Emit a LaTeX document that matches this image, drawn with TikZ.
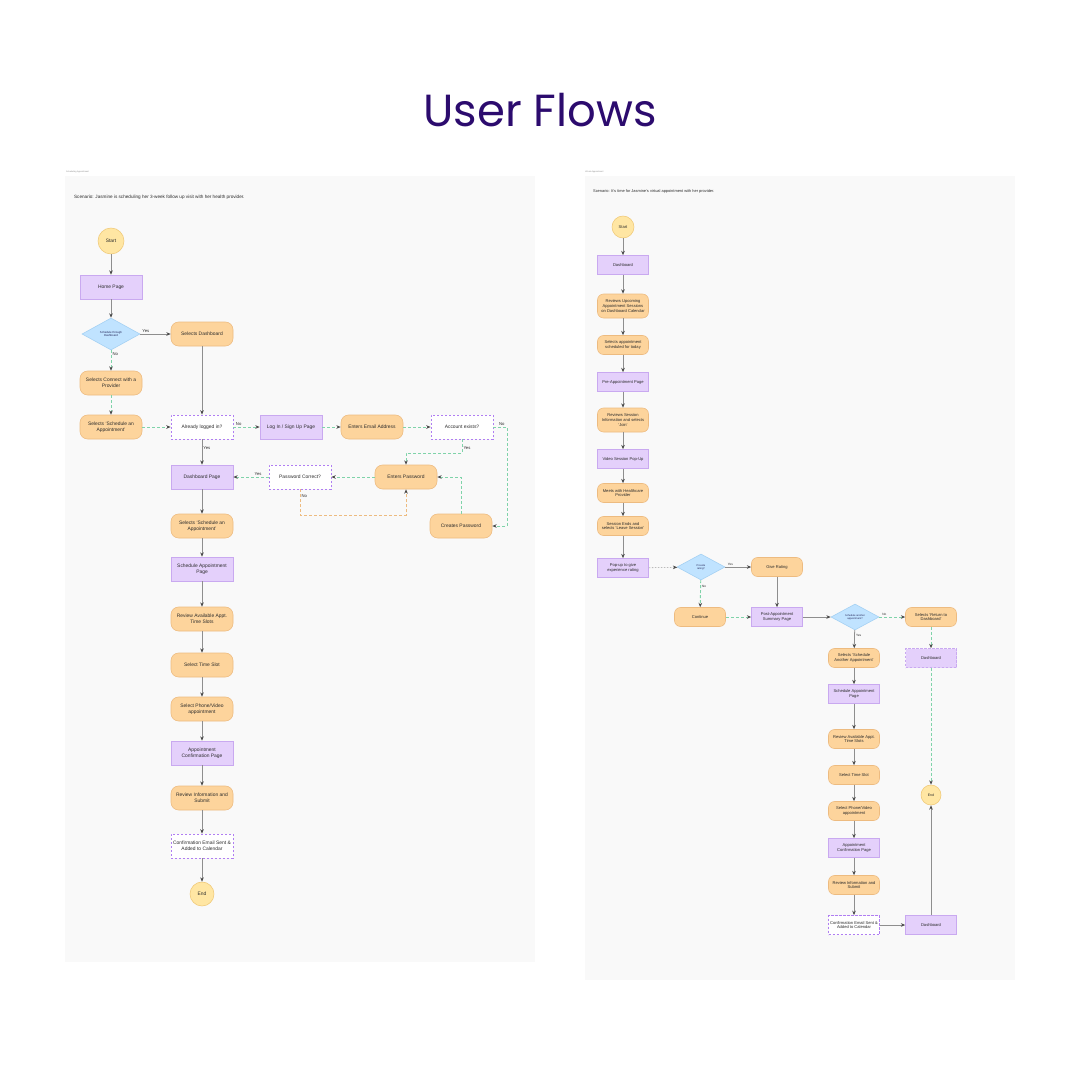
\documentclass[tikz,border=0pt]{standalone}
\usepackage{fontspec}
\setmainfont{Liberation Sans}
\newfontfamily\titlefont{Poppins}
\usetikzlibrary{arrows.meta,shapes.geometric}
\definecolor{flowpurple}{HTML}{E4D0FB}
\definecolor{flowpurpleline}{HTML}{C9A9F0}
\definecolor{flowcheckline}{HTML}{B07EF2}
\definecolor{floworange}{HTML}{FDD49C}
\definecolor{floworangeline}{HTML}{EDBB80}
\definecolor{flowyellow}{HTML}{FFE6A3}
\definecolor{flowyellowline}{HTML}{F0C977}
\definecolor{flowblue}{HTML}{C0E3FF}
\definecolor{flowblueline}{HTML}{A3D0F3}
\definecolor{flowgreen}{HTML}{7FD3A9}
\definecolor{flowgray}{HTML}{8E8E8E}
\definecolor{flowink}{HTML}{2B2B2B}
\definecolor{titleink}{HTML}{2C0B6E}
\definecolor{panelbg}{HTML}{F9F9F9}
\tikzset{
  >={Stealth[length=2.2mm,width=1.8mm,color=flowink!85]},
  pagebox/.style={draw=flowpurpleline,fill=flowpurple,line width=0.8pt,
                  minimum width=3.1cm,minimum height=1.2cm,inner sep=2pt,
                  align=center,font=\fontsize{7}{8.6}\selectfont,text=flowink},
  actbox/.style={pagebox,draw=floworangeline,fill=floworange,rounded corners=0.38cm},
  checkbox/.style={pagebox,fill=white,draw=flowcheckline,line width=1.1pt,
                   dash pattern=on 1.2mm off 0.8mm},
  startend/.style={circle,draw=flowyellowline,fill=flowyellow,line width=0.8pt,
                   minimum size=1.3cm,inner sep=0pt,font=\fontsize{7}{8.6}\selectfont,text=flowink},
  choice/.style={diamond,draw=flowblueline,fill=flowblue,line width=0.8pt,
                 minimum width=2.9cm,minimum height=1.6cm,inner sep=0pt,align=center,
                 font=\fontsize{4}{5}\selectfont,text=flowink!80!blue},
  rpage/.style={pagebox,minimum width=2.55cm,minimum height=0.95cm,font=\fontsize{5.8}{7}\selectfont},
  ract/.style={actbox,minimum width=2.55cm,minimum height=0.95cm,rounded corners=0.3cm,
               font=\fontsize{5.8}{7}\selectfont},
  rtall/.style={ract,minimum height=1.2cm},
  rcheck/.style={checkbox,minimum width=2.55cm,minimum height=0.95cm,font=\fontsize{5.8}{7}\selectfont},
  rchoice/.style={choice,minimum width=2.4cm,minimum height=1.3cm,font=\fontsize{3.6}{4.4}\selectfont},
  plainarrow/.style={->,draw=flowgray,line width=1.1pt},
  softarrow/.style={->,draw=flowgray!60,line width=1.1pt,dash pattern=on 0.8mm off 0.7mm},
  altarrow/.style={->,draw=flowgreen,line width=1.3pt,dash pattern=on 1.5mm off 1mm},
  retryarrow/.style={->,draw=floworangeline,line width=1.3pt,dash pattern=on 1.5mm off 1mm},
  branchlabel/.style={font=\fontsize{6}{7}\selectfont,text=flowink,inner sep=1.5pt},
  rlabel/.style={branchlabel,font=\fontsize{4.5}{5.5}\selectfont},
}
\begin{document}
\begin{tikzpicture}[x=0.05cm,y=-0.05cm]
  \useasboundingbox[fill=white] (0,0) rectangle (1080,1080);
  \node[font=\titlefont\fontsize{64}{74}\selectfont,text=titleink] (title) at (540,110) {User Flows};

  % panels
  \fill[panelbg] (65,176) rectangle (535,962);
  \fill[panelbg] (585,176) rectangle (1015,980);
  \node[anchor=west,inner sep=0pt,font=\fontsize{3}{3.5}\selectfont,text=flowgray] (lhead) at (66,172) {Scheduling Appointment};
  \node[anchor=west,inner sep=0pt,font=\fontsize{3}{3.5}\selectfont,text=flowgray] (rhead) at (585,172) {Virtual Appointment};
  \node[anchor=west,inner sep=0pt,font=\fontsize{6.6}{7.6}\selectfont,text=flowink] (lscene) at (74,197)
    {Scenario: Jasmine is scheduling her 3-week follow up visit with her health provider.};
  \node[anchor=west,inner sep=0pt,font=\fontsize{5.6}{6.6}\selectfont,text=flowink] (rscene) at (593,191)
    {Scenario: It's time for Jasmine's virtual appointment with her provider.};

  % left flow
  \node[startend] (lstart) at (111,241) {Start};
  \node[pagebox] (lhome) at (111,287) {Home Page};
  \node[choice] (lq1) at (111,334) {Schedule through\\Dashboard};
  \node[actbox] (lseldash) at (202,334) {Selects Dashboard};
  \node[actbox] (lconnect) at (111,383) {Selects Connect with a\\Provider};
  \node[actbox] (lsched) at (111,427) {Selects `Schedule an\\Appointment'};
  \node[checkbox] (llogged) at (202,427) {Already logged in?};
  \node[pagebox] (llogin) at (291,427) {Log In / Sign Up Page};
  \node[actbox] (lemail) at (372,427) {Enters Email Address};
  \node[checkbox] (lexists) at (462,427) {Account exists?};
  \node[pagebox] (ldashpage) at (202,477) {Dashboard Page};
  \node[checkbox] (lcorrect) at (300,477) {Password Correct?};
  \node[actbox] (lpass) at (406,477) {Enters Password};
  \node[actbox] (lcreate) at (461,526) {Creates Password};
  \foreach \sty/\y/\txt [count=\n] in {
      actbox/526/{Selects `Schedule an\\Appointment'},
      pagebox/569/{Schedule Appointment\\Page},
      actbox/619/{Review Available Appt.\\Time Slots},
      actbox/665/{Select Time Slot},
      actbox/709/{Select Phone/Video\\appointment},
      pagebox/753/{Appointment\\Confirmation Page},
      actbox/798/{Review Information and\\Submit},
      checkbox/846/{Confirmation Email Sent \&\\Added to Calendar}}{
    \node[\sty] (lc\n) at (202,\y) {\txt};
  }
  \node[startend,minimum size=1.2cm] (lend) at (202,894) {End};

  \draw[plainarrow] (lstart) -- (lhome);
  \draw[plainarrow] (lhome) -- (lq1);
  \draw[plainarrow] (lq1) -- node[branchlabel,above,pos=0.18]{Yes} (lseldash);
  \draw[altarrow] (lq1) -- node[branchlabel,right,pos=0.2]{No} (lconnect);
  \draw[altarrow] (lconnect) -- (lsched);
  \draw[altarrow] (lsched) -- (llogged);
  \draw[plainarrow] (lseldash) -- (llogged);
  \draw[altarrow] (llogged) -- node[branchlabel,above,pos=0.2]{No} (llogin);
  \draw[altarrow] (llogin) -- (lemail);
  \draw[altarrow] (lemail) -- (lexists);
  \draw[altarrow] (lexists.south) -- node[branchlabel,right,pos=0.6]{Yes} ++(0,14) -| (lpass.north);
  \draw[altarrow] (lexists.east) -- node[branchlabel,above,pos=0.6]{No} ++(14,0) |- (lcreate.east);
  \draw[altarrow] (lcreate.north) |- (lpass.east);
  \draw[altarrow] (lpass) -- (lcorrect);
  \draw[altarrow] (lcorrect) -- node[branchlabel,above,pos=0.3]{Yes} (ldashpage);
  \draw[retryarrow] (lcorrect.south) -- node[branchlabel,right,pos=0.25]{No} ++(0,26) -| (lpass.south);
  \draw[plainarrow] (llogged) -- node[branchlabel,right,pos=0.35]{Yes} (ldashpage);
  \draw[plainarrow] (ldashpage) -- (lc1);
  \foreach \a/\b in {1/2,2/3,3/4,4/5,5/6,6/7,7/8}{
    \draw[plainarrow] (lc\a) -- (lc\b);
  }
  \draw[plainarrow] (lc8) -- (lend);

  % right flow
  \node[startend,minimum size=1.1cm,font=\fontsize{5.8}{7}\selectfont] (rstart) at (623,227) {Start};
  \foreach \sty/\y/\txt [count=\n] in {
      rpage/265/{Dashboard},
      rtall/306/{Reviews Upcoming\\Appointment Sessions\\on Dashboard Calendar},
      ract/345/{Selects appointment\\scheduled for today},
      rpage/382/{Pre-Appointment Page},
      rtall/420/{Reviews Session\\Information and selects\\`Join'},
      rpage/459/{Video Session Pop-Up},
      ract/493/{Meets with Healthcare\\Provider},
      ract/526/{Session Ends and\\selects `Leave Session'},
      rpage/568/{Pop-up to give\\experience rating}}{
    \node[\sty] (rt\n) at (623,\y) {\txt};
  }
  \node[rchoice] (rq1) at (701,567) {Provide\\rating?};
  \node[ract] (rgive) at (777,567) {Give Rating};
  \node[ract] (rcont) at (700,617) {Continue};
  \node[rpage] (rpost) at (777,617) {Post-Appointment\\Summary Page};
  \node[rchoice] (rq2) at (855,617) {Schedule another\\appointment?};
  \node[ract] (rreturn) at (931,617) {Selects `Return to\\Dashboard'};
  \node[rpage,dash pattern=on 1.2mm off 0.8mm] (rdash1) at (931,658) {Dashboard};
  \node[startend,minimum size=1cm,font=\fontsize{5}{6}\selectfont] (rend) at (931,795) {End};
  \node[rpage] (rdash2) at (931,925) {Dashboard};
  \foreach \sty/\y/\txt [count=\n] in {
      ract/658/{Selects `Schedule\\Another Appointment'},
      rpage/694/{Schedule Appointment\\Page},
      ract/739/{Review Available Appt.\\Time Slots},
      ract/775/{Select Time Slot},
      ract/811/{Select Phone/Video\\appointment},
      rpage/848/{Appointment\\Confirmation Page},
      ract/885/{Review Information and\\Submit},
      rcheck/925/{Confirmation Email Sent \&\\Added to Calendar}}{
    \node[\sty] (rb\n) at (854,\y) {\txt};
  }

  \draw[plainarrow] (rstart) -- (rt1);
  \foreach \a/\b in {1/2,2/3,3/4,4/5,5/6,6/7,7/8,8/9}{
    \draw[plainarrow] (rt\a) -- (rt\b);
  }
  \draw[softarrow] (rt9) -- (rq1);
  \draw[plainarrow] (rq1) -- node[rlabel,above,pos=0.2]{Yes} (rgive);
  \draw[altarrow] (rq1) -- node[rlabel,right,pos=0.25]{No} (rcont);
  \draw[plainarrow] (rgive) -- (rpost);
  \draw[altarrow] (rcont) -- (rpost);
  \draw[plainarrow] (rpost) -- (rq2);
  \draw[altarrow] (rq2) -- node[rlabel,above,pos=0.2]{No} (rreturn);
  \draw[plainarrow] (rq2) -- node[rlabel,right,pos=0.3]{Yes} (rb1);
  \draw[altarrow] (rreturn) -- (rdash1);
  \draw[altarrow] (rdash1) -- (rend);
  \foreach \a/\b in {1/2,2/3,3/4,4/5,5/6,6/7,7/8}{
    \draw[plainarrow] (rb\a) -- (rb\b);
  }
  \draw[plainarrow] (rb8) -- (rdash2);
  \draw[plainarrow] (rdash2) -- (rend);
\end{tikzpicture}
\end{document}
